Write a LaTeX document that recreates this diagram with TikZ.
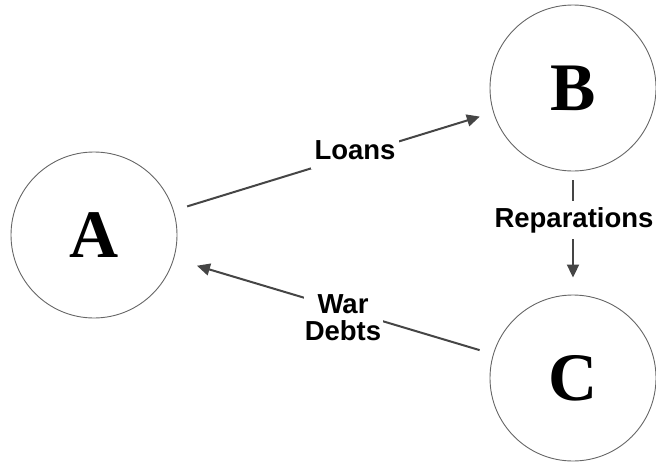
\documentclass[tikz,border=0pt]{standalone}
\usepackage{fontspec}
\setmainfont{Liberation Serif}
\setsansfont{Liberation Sans}
\usepackage{xcolor}
\usetikzlibrary{arrows.meta}

\begin{document}
\begin{tikzpicture}[x=1pt, y=-1pt,
    land/.style={circle, draw=black!60, line width=0.9pt, minimum size=166pt, inner sep=0pt,
        font=\fontsize{68}{68}\selectfont\bfseries},
    flow/.style={draw=black!73, line width=2pt, -{Triangle[length=13pt,width=12pt]}},
    flowlabel/.style={fill=white, inner sep=0pt, align=center,
        font=\sffamily\bfseries\fontsize{27.5}{27}\selectfont}]
\useasboundingbox (0,0) rectangle (656,463);

% the three countries
\node[land] (A) at (94,235) {A};
\node[land] (B) at (573,88) {B};
\node[land] (C) at (573,378) {C};

% money flows
\draw[flow, shorten <=14pt, shorten >=14pt] (A) -- (B);
\draw[flow, shorten <=9pt, shorten >=17pt] (B) -- (C);
\draw[flow, shorten <=14pt, shorten >=24pt] (C) -- (A);

% labels sit on top of the lines
\node[flowlabel, minimum width=88pt, minimum height=38pt] (loans) at (355,150) {Loans};
\node[flowlabel, minimum width=166pt, minimum height=38pt] (repar) at (574,220) {Reparations};
\node[flowlabel, minimum width=79pt, minimum height=56pt] (debts) at (343,318) {War\\Debts};
\end{tikzpicture}
\end{document}
